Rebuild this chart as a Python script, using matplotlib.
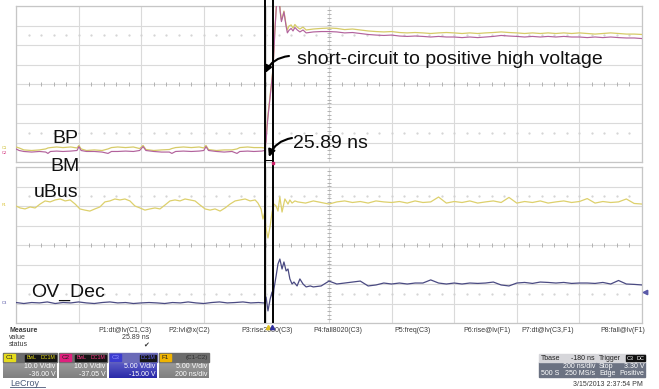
import numpy as np
import matplotlib
matplotlib.use('Agg')
import matplotlib.pyplot as plt
from matplotlib.patches import Rectangle
from matplotlib.colors import LinearSegmentedColormap

plt.rcParams['font.family'] = ['Liberation Sans', 'DejaVu Sans']

W, H = 659, 389

# ---------------------------------------------------------------------------
# Scope data: time in ns (200 ns/div, 10 div), amplitude in screen divisions
# ---------------------------------------------------------------------------
t_up = [0, 10, 25, 50, 75, 95, 102, 110, 130, 150, 175, 195, 201, 208, 225, 250,
        275, 294, 305, 325, 350, 375, 395, 406, 415, 440, 465, 490, 498, 510, 535,
        560, 585, 600, 607, 615, 640, 665, 690, 706, 715, 740, 760, 785, 794,
        799, 802, 805, 812, 818, 821, 824, 827, 831, 834, 840, 844, 848, 853, 856,
        863, 867, 872, 879, 885, 891, 898, 907, 917, 927,
        950, 975, 1000, 1025, 1050, 1075, 1100, 1125, 1150, 1175, 1200, 1225, 1250,
        1275, 1300, 1325, 1350, 1375, 1400, 1425, 1450, 1475, 1500, 1525, 1550,
        1575, 1600, 1625, 1650, 1675, 1700, 1725, 1750, 1775, 1800, 1825, 1850,
        1875, 1900, 1925, 1950, 1975, 2000]

bp_div = [-3.23, -3.28, -3.38, -3.41, -3.38, -3.33, -3.28, -3.26, -3.23, -3.26, -3.23,
          -3.28, -3.15, -3.33, -3.41, -3.38, -3.41, -3.33, -3.26, -3.23, -3.26, -3.23,
          -3.31, -3.15, -3.36, -3.41, -3.38, -3.36, -3.31, -3.26, -3.23, -3.26, -3.23,
          -3.28, -3.15, -3.36, -3.41, -3.38, -3.38, -3.33, -3.26, -3.23, -3.26, -3.26,
          -3.28,
          -2.87, -2.10, -1.59, -0.56, 0.31, 0.82, 1.74, 2.77, 3.79, 4.56, 4.56, 3.79,
          3.28, 3.54, 3.74, 3.03, 2.77, 2.97, 3.03, 2.87, 3.05, 2.92, 2.82, 2.92, 2.77,
          2.82, 2.85, 2.87, 2.85, 2.79, 2.82, 2.77, 2.72, 2.69, 2.67, 2.69, 2.64, 2.62,
          2.64, 2.62, 2.59, 2.62, 2.64, 2.62, 2.59, 2.62, 2.59, 2.62, 2.64, 2.67, 2.64,
          2.62, 2.59, 2.62, 2.59, 2.62, 2.59, 2.62, 2.59, 2.62, 2.59, 2.56, 2.59, 2.62,
          2.59, 2.56, 2.56, 2.54]

bm_div = [-3.33, -3.41, -3.46, -3.49, -3.46, -3.49, -3.56, -3.46, -3.44, -3.46, -3.44,
          -3.41, -3.21, -3.41, -3.46, -3.46, -3.49, -3.56, -3.46, -3.46, -3.44, -3.46,
          -3.41, -3.21, -3.41, -3.46, -3.49, -3.49, -3.56, -3.46, -3.44, -3.46, -3.44,
          -3.41, -3.21, -3.41, -3.46, -3.49, -3.46, -3.56, -3.46, -3.44, -3.46, -3.44,
          -3.41,
          -2.95, -2.20, -1.70, -0.65, 0.25, 0.75, 1.65, 2.70, 3.75, 4.56, 4.56, 3.70,
          3.20, 3.50, 3.70, 2.95, 2.62, 2.75, 2.85, 2.72, 2.90, 2.78, 2.67, 2.77, 2.62,
          2.67, 2.69, 2.69, 2.67, 2.62, 2.64, 2.59, 2.54, 2.51, 2.49, 2.51, 2.46, 2.44,
          2.46, 2.44, 2.41, 2.44, 2.41, 2.41, 2.38, 2.41, 2.38, 2.41, 2.44, 2.49, 2.46,
          2.44, 2.41, 2.44, 2.41, 2.44, 2.41, 2.44, 2.41, 2.41, 2.38, 2.41, 2.38, 2.41,
          2.38, 2.36, 2.36, 2.33]

t_bus = [0, 13, 29, 45, 61, 77, 93, 109, 125, 141, 157, 173, 189, 204, 220, 236, 252,
         268, 284, 300, 316, 332, 348, 364, 380, 396, 412, 428, 444, 460, 476, 492,
         508, 524, 540, 556, 572, 588, 604, 620, 636, 652, 668, 684, 700, 716, 732,
         748, 764, 773, 783, 789, 794, 799, 805, 812, 818, 824, 831, 837, 843, 850,
         859, 869, 875, 882, 891,
         900, 925, 950, 975, 1000, 1025, 1050, 1075, 1100, 1125, 1150, 1175, 1200,
         1225, 1250, 1275, 1300, 1325, 1350, 1375, 1400, 1425, 1450, 1475, 1500,
         1525, 1550, 1575, 1600, 1625, 1650, 1675, 1700, 1725, 1750, 1775, 1800,
         1825, 1850, 1875, 1900, 1925, 1950, 1975, 2000]

ubus_div = [2.00, 1.90, 1.85, 1.95, 1.90, 2.10, 2.26, 2.21, 2.31, 2.36, 2.26, 2.31, 2.10,
            1.85, 1.79, 1.74, 1.85, 1.95, 2.21, 2.26, 2.36, 2.31, 2.36, 2.26, 2.00, 1.90,
            1.79, 1.85, 1.90, 1.85, 2.05, 2.26, 2.31, 2.26, 2.36, 2.31, 2.26, 2.05, 1.85,
            1.79, 1.85, 1.74, 1.90, 2.10, 2.26, 2.31, 2.36, 2.26, 2.31, 2.15, 1.85, 1.33,
            1.64, 0.82, 0.36, 0.97, 1.69, 2.10, 2.00, 1.74, 2.46, 1.69, 2.36, 2.10, 2.31,
            2.15, 2.26,
            2.21, 2.15, 2.26, 2.18, 2.10, 2.21, 2.26, 2.18, 2.23, 2.15, 2.26, 2.21, 2.18,
            2.23, 2.15, 2.26, 2.18, 2.21, 2.46, 2.15, 2.23, 2.18, 2.26, 2.15, 2.21, 2.26,
            2.18, 2.44, 2.15, 2.23, 2.18, 2.26, 2.15, 2.21, 2.26, 2.18, 2.23, 2.38, 2.15,
            2.23, 2.18, 2.21, 2.36, 2.13, 2.10]

t_ov = [0, 25, 50, 75, 100, 125, 150, 175, 200, 225, 250, 275, 300, 325, 350, 375,
        400, 425, 450, 475, 500, 525, 550, 575, 600, 625, 650, 675, 700, 725, 750,
        775, 790, 796, 799, 805, 812, 818, 821, 824, 831, 837, 843, 850, 856, 863,
        869, 875, 882, 888, 898, 907, 917, 927, 940,
        950, 975, 1000, 1025, 1050, 1075, 1100, 1125, 1150, 1175, 1200, 1225, 1250,
        1275, 1300, 1325, 1350, 1375, 1400, 1425, 1450, 1475, 1500, 1525, 1550,
        1575, 1600, 1625, 1650, 1675, 1700, 1725, 1750, 1775, 1800, 1825, 1850,
        1875, 1900, 1925, 1950, 1975, 2000]

ovdec_div = [-2.95, -3.00, -2.95, -2.97, -2.92, -3.00, -2.95, -2.97, -2.92, -2.97, -3.00,
             -2.95, -2.92, -2.97, -2.95, -3.00, -2.97, -2.95, -2.97, -3.00, -2.95, -2.97,
             -2.92, -2.97, -3.00, -2.95, -2.92, -2.97, -2.95, -2.92, -2.97, -2.95, -2.97,
             -2.97, -2.67, -3.38, -2.77, -2.41, -2.87, -2.26, -1.59, -0.97, -0.72, -1.23,
             -0.87, -1.33, -1.23, -1.74, -2.00, -1.90, -2.10, -1.74, -2.00, -2.15, -2.10,
             -2.15, -2.10, -1.85, -2.00, -1.95, -1.90, -1.85, -2.10, -2.05, -1.95, -2.00,
             -1.95, -2.00, -1.95, -1.95, -1.79, -1.95, -2.00, -1.95, -2.00, -1.95, -1.97,
             -1.95, -1.90, -2.05, -2.10, -1.95, -1.92, -1.97, -1.90, -1.92, -1.95, -1.92,
             -1.97, -1.95, -1.95, -1.97, -1.92, -2.00, -1.82, -2.00, -2.02, -2.05]

cursor_start_ns = 794.0
measured_dt_ns = 25.89

measure_names = ['P1:dt@lv(C1,C3)', 'P2:lvl@x(C2)', 'P3:rise2080(C3)', 'P4:fall8020(C3)',
                 'P5:freq(C3)', 'P6:rise@lv(F1)', 'P7:dt@lv(C3,F1)', 'P8:fall@lv(F1)']

channels = ['C1', 'C2', 'C3', 'F1']
chan_scale = ['10.0 V/div', '10.0 V/div', '5.00 V/div', '5.00 V/div']
chan_offset = ['-36.00 V', '-37.05 V', '-15.00 V', '200 ns/div']

fig = plt.figure(figsize=(W / 100, H / 100), dpi=100)


def px_axes(x0, y0, x1, y1, **kw):
    return fig.add_axes([x0 / W, 1 - y1 / H, (x1 - x0) / W, (y1 - y0) / H], **kw)


def scope_panel(y0, y1):
    ax = px_axes(16, y0, 642, y1)
    ax.set_xlim(0, 2000)
    ax.set_ylim(-4, 4)
    ax.set_xticks(np.arange(0, 2001, 200))
    ax.set_yticks(np.arange(-4, 5, 1))
    ax.grid(True, color='#dadada', lw=0.8)
    ax.set_axisbelow(True)
    ax.tick_params(length=0, labelbottom=False, labelleft=False)
    for s in ax.spines.values():
        s.set_color('#c6c6c6')
        s.set_linewidth(0.9)
    # fine graduations on the centre cross
    fine_t = np.arange(40, 2000, 40)
    ax.plot(fine_t, np.zeros(len(fine_t)), '|', color='#a8a8a8', ms=3.5, mew=0.6, zorder=1)
    fine_v = np.arange(-3.8, 4.0, 0.2)
    ax.plot(np.full(len(fine_v), 1000), fine_v, '_', color='#a8a8a8', ms=3.5, mew=0.6, zorder=1)
    for yv in (-2.5, 2.5):
        ax.plot(fine_t, np.full(len(fine_t), yv), '.', color='#d2d2d2', ms=1.2, zorder=1)
    return ax


ax_up = scope_panel(6, 162)
ax_up.plot(t_up, bp_div, color='#d6cb68', lw=0.9, zorder=3)
ax_up.plot(t_up, bm_div, color='#b2629c', lw=0.85, zorder=3)

ax_lo = scope_panel(167, 323)
ax_lo.plot(t_bus, ubus_div, color='#ddd06c', lw=0.9, zorder=3)
ax_lo.plot(t_ov, ovdec_div, color='#4a4a82', lw=0.9, zorder=3)

# cursors spanning both grids
ax_c = px_axes(16, 0, 642, 323, zorder=5)
ax_c.patch.set_visible(False)
ax_c.set_xlim(0, 2000)
ax_c.set_ylim(0, 1)
ax_c.axis('off')
cursor_end_ns = cursor_start_ns + measured_dt_ns
for tc in (cursor_start_ns, cursor_end_ns):
    ax_c.axvline(tc, color='black', lw=1.4)
ax_c.plot([cursor_start_ns, cursor_end_ns], [0.505, 0.505], color='black', lw=0.7)
ax_c.plot([cursor_end_ns], [0.494], 's', color='#d0206a', ms=1.8)
ax_c.plot([cursor_start_ns + 12], [-0.013], '^', color='#e0c020', ms=3, clip_on=False)
ax_c.plot([cursor_end_ns - 2], [-0.013], '^', color='#3030a0', ms=3, clip_on=False)
ax_c.plot([2010], [0.096], '<', color='#5a5aa8', ms=3.2, clip_on=False)

# trace labels and annotations
big = dict(fontsize=14, color='#111111', va='baseline', zorder=6)
fig.text(52 / W, 1 - 143.5 / H, 'BP', **big)
fig.text(50 / W, 1 - 171 / H, 'BM', **big)
fig.text(34 / W, 1 - 196.5 / H, 'uBus', **big)
fig.text(31 / W, 1 - 296.5 / H, 'OV_Dec', **big)
fig.text(297 / W, 1 - 63.5 / H, 'short-circuit to positive high voltage', **big)
fig.text(293 / W, 1 - 147.5 / H, f'{measured_dt_ns:.2f} ns', **big)

arrow = dict(arrowstyle='-|>', color='black', lw=1.5, mutation_scale=10,
             shrinkA=0, shrinkB=0, connectionstyle='arc3,rad=0.28')
ax_up.annotate('', xy=(cursor_start_ns + 2, 0.56), xycoords='data',
               xytext=(289, H - 56), textcoords='figure pixels', arrowprops=arrow)
ax_up.annotate('', xy=(cursor_start_ns + 14, -3.74), xycoords='data',
               xytext=(292, H - 138), textcoords='figure pixels', arrowprops=arrow)

# status area drawn in pixel space
ax_f = fig.add_axes([0, 0, 1, 1], zorder=4)
ax_f.patch.set_visible(False)
ax_f.axis('off')

small = dict(fontsize=5, color='#3a3a3a')
ax_f.text(9, 330, 'Measure', fontweight='bold', va='center', **small)
ax_f.text(9, 337.5, 'value', va='center', **small)
ax_f.text(9, 345, 'status', va='center', **small)
meas_x = [125, 189, 267, 338, 413, 487, 548, 623]
for xm, name in zip(meas_x, measure_names):
    ax_f.text(xm, 330, name, ha='center', va='center', **small)
ax_f.text(149, 337.5, f'{measured_dt_ns:.2f} ns', ha='right', va='center', **small)
ax_f.text(146, 345, '\u2714', ha='center', va='center', fontsize=5, color='#333333',
          family=['DejaVu Sans'])

box_x = [(3, 57), (59, 107), (109, 157), (159, 209)]
tag_col = ['#e6dc1c', '#e0207e', '#3c3cd0', '#f0b400']
body_top = ['#ababab', '#ababab', '#7a7ad8', '#ababab']
body_bot = ['#808080', '#808080', '#2a2aa8', '#808080']
badge_txt = ['#e6dc1c', '#ff3a8a', '#6a6aff', None]
for (x0, x1), ch, sc, off, tc, bt, bb, btx in zip(box_x, channels, chan_scale, chan_offset,
                                                  tag_col, body_top, body_bot, badge_txt):
    cmap = LinearSegmentedColormap.from_list('box', [bt, bb])
    ax_f.imshow(np.linspace(0, 1, 32).reshape(-1, 1), cmap=cmap, origin='lower',
                extent=[x0, x1, 353, 378], aspect='auto', zorder=1)
    strip = '#6a6ab8' if ch == 'C3' else '#6c6c6c'
    ax_f.add_patch(Rectangle((x0, 353), x1 - x0, 9, color=strip, zorder=2))
    ax_f.add_patch(Rectangle((x0 + 1, 354), 11, 7, color=tc, zorder=3))
    ax_f.text(x0 + 6.5, 357.8, ch, ha='center', va='center', fontsize=4.5,
              color='#9090ff' if ch == 'C3' else '#202020', zorder=4)
    if btx is not None:
        if ch != 'C3':
            ax_f.add_patch(Rectangle((x1 - 32, 354.5), 13.5, 6.5, color='#151515', zorder=3))
            ax_f.text(x1 - 25.25, 357.8, 'BwL', ha='center', va='center', fontsize=3.8,
                      color=btx, zorder=4)
        ax_f.add_patch(Rectangle((x1 - 17, 354.5), 16, 6.5, color='#151515', zorder=3))
        ax_f.text(x1 - 9, 357.8, 'DC1M', ha='center', va='center', fontsize=3.8,
                  color=btx, zorder=4)
    else:
        ax_f.text(x1 - 1.5, 357.8, '(C1-C2)', ha='right', va='center', fontsize=4.5,
                  color='#303030', zorder=4)
    ax_f.text(x1 - 1.5, 366.5, sc, ha='right', va='center', fontsize=5, color='white', zorder=4)
    ax_f.text(x1 - 1.5, 374, off, ha='right', va='center', fontsize=5, color='white', zorder=4)

# timebase and trigger boxes
for x0, x1 in [(539, 596), (597, 645)]:
    ax_f.add_patch(Rectangle((x0, 362), x1 - x0, 15, color='#6b7282', zorder=1))
    ax_f.add_patch(Rectangle((x0, 354), x1 - x0, 8, color='#d6d6da', zorder=1))
ax_f.text(541, 358, 'Tbase', va='center', fontsize=5, color='#202020', zorder=4)
ax_f.text(595, 358, '-180 ns', ha='right', va='center', fontsize=5, color='#202020', zorder=4)
ax_f.text(595, 366, '200 ns/div', ha='right', va='center', fontsize=5, color='white', zorder=4)
ax_f.text(541, 373.5, '500 S', va='center', fontsize=5, color='white', zorder=4)
ax_f.text(595, 373.5, '250 MS/s', ha='right', va='center', fontsize=5, color='white', zorder=4)
ax_f.text(599, 358, 'Trigger', va='center', fontsize=5, color='#202020', zorder=4)
ax_f.add_patch(Rectangle((626, 355), 9, 6, color='#111111', zorder=3))
ax_f.add_patch(Rectangle((635.5, 355), 9, 6, color='#111111', zorder=3))
ax_f.text(630.5, 358, 'C3', ha='center', va='center', fontsize=4, color='white', zorder=4)
ax_f.text(640, 358, 'DC', ha='center', va='center', fontsize=4, color='white', zorder=4)
ax_f.text(599, 366, 'Stop', va='center', fontsize=5, color='white', zorder=4)
ax_f.text(644, 366, '3.30 V', ha='right', va='center', fontsize=5, color='white', zorder=4)
ax_f.text(599, 373.5, 'Edge', va='center', fontsize=5, color='white', zorder=4)
ax_f.text(644, 373.5, 'Positive', ha='right', va='center', fontsize=5, color='white', zorder=4)
ax_f.text(643, 384.5, '3/15/2013 2:37:54 PM', ha='right', va='center', fontsize=5,
          color='#3a3a3a', zorder=4)
ax_f.text(10, 383, 'LeCroy', va='center', fontsize=6.5, color='#4a5a78', zorder=4)
ax_f.plot([10, 45], [387, 387], color='#4a5a78', lw=0.6)

# channel reference markers on the left edge
for y, s, c in [(148, 'C1', '#c8b820'), (153, 'C2', '#d02070'),
                (205, 'F1', '#d8c030'), (303, 'C3', '#40409a')]:
    ax_f.text(2, y, s, va='center', fontsize=3, color=c, zorder=4)

ax_f.set_xlim(0, W)
ax_f.set_ylim(H, 0)

fig.savefig('out.png', dpi=100)
